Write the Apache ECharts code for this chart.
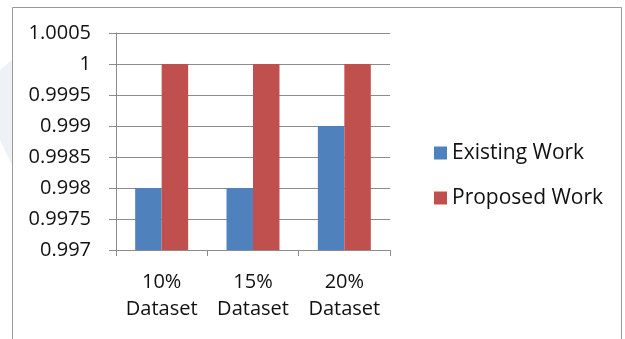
<!DOCTYPE html>
<html>
<head>
<meta charset="utf-8">
<script src="https://cdn.jsdelivr.net/npm/echarts@6/dist/echarts.min.js"></script>
<style>
  html, body { margin: 0; padding: 0; background: #ffffff; }
  #chart { width: 625px; height: 339px; }
</style>
</head>
<body>
<div id="chart"></div>
<script>
// Accuracy of existing vs proposed work per dataset size
const categories = ['10%\nDataset', '15%\nDataset', '20%\nDataset'];
const existingWork = [0.998, 0.998, 0.999];
const proposedWork = [1, 1, 1];
const seriesNames = ['Existing Work', 'Proposed Work'];

const FONT = '"Open Sans", Lato, sans-serif';
const TEXT = '#111111';
const GRID = '#8c8c8c';

const chart = echarts.init(document.getElementById('chart'), null, { renderer: 'canvas' });

chart.setOption({
  animation: false,
  backgroundColor: '#ffffff',
  textStyle: { fontFamily: FONT },
  graphic: [
    {
      type: 'polygon',
      silent: true,
      z: -10,
      shape: { points: [[0, 70], [12, 60], [12, 165], [0, 140]] },
      style: { fill: '#eef2f7' }
    },
    {
      type: 'rect',
      silent: true,
      z: -5,
      shape: { x: 12.5, y: 7.5, width: 609, height: 345 },
      style: { fill: 'none', stroke: '#9a9a9a', lineWidth: 1 }
    }
  ],
  grid: { left: 116, top: 33, right: 235, bottom: 89, containLabel: false },
  legend: {
    orient: 'vertical',
    left: 429,
    top: 136,
    itemWidth: 13,
    itemHeight: 13,
    itemGap: 21,
    icon: 'rect',
    data: seriesNames,
    textStyle: { fontFamily: FONT, fontSize: 21, lineHeight: 24, color: TEXT, padding: [0, 0, 0, 0] }
  },
  xAxis: {
    type: 'category',
    data: categories,
    axisLine: { show: true, lineStyle: { color: GRID, width: 1 } },
    axisTick: { show: true, length: 6, lineStyle: { color: GRID } },
    axisLabel: {
      fontFamily: FONT, fontSize: 20, color: TEXT,
      lineHeight: 27, margin: 19, align: 'center',
      interval: 0, hideOverlap: false
    },
    splitLine: { show: false }
  },
  yAxis: {
    type: 'value',
    min: 0.997,
    max: 1.0005,
    interval: 0.0005,
    axisLine: { show: true, lineStyle: { color: GRID, width: 1 } },
    axisTick: { show: true, length: 7, lineStyle: { color: GRID } },
    axisLabel: {
      fontFamily: FONT, fontSize: 20, color: TEXT, margin: 25,
      formatter: v => String(+v.toFixed(4))
    },
    splitLine: { show: true, lineStyle: { color: GRID, width: 1 } }
  },
  series: [
    {
      name: seriesNames[0],
      type: 'bar',
      data: existingWork,
      barGap: '0%',
      barCategoryGap: '42%',
      itemStyle: { color: '#4f81bd' }
    },
    {
      name: seriesNames[1],
      type: 'bar',
      data: proposedWork,
      barGap: '0%',
      barCategoryGap: '42%',
      itemStyle: { color: '#c0504d' }
    }
  ]
});
</script>
</body>
</html>
